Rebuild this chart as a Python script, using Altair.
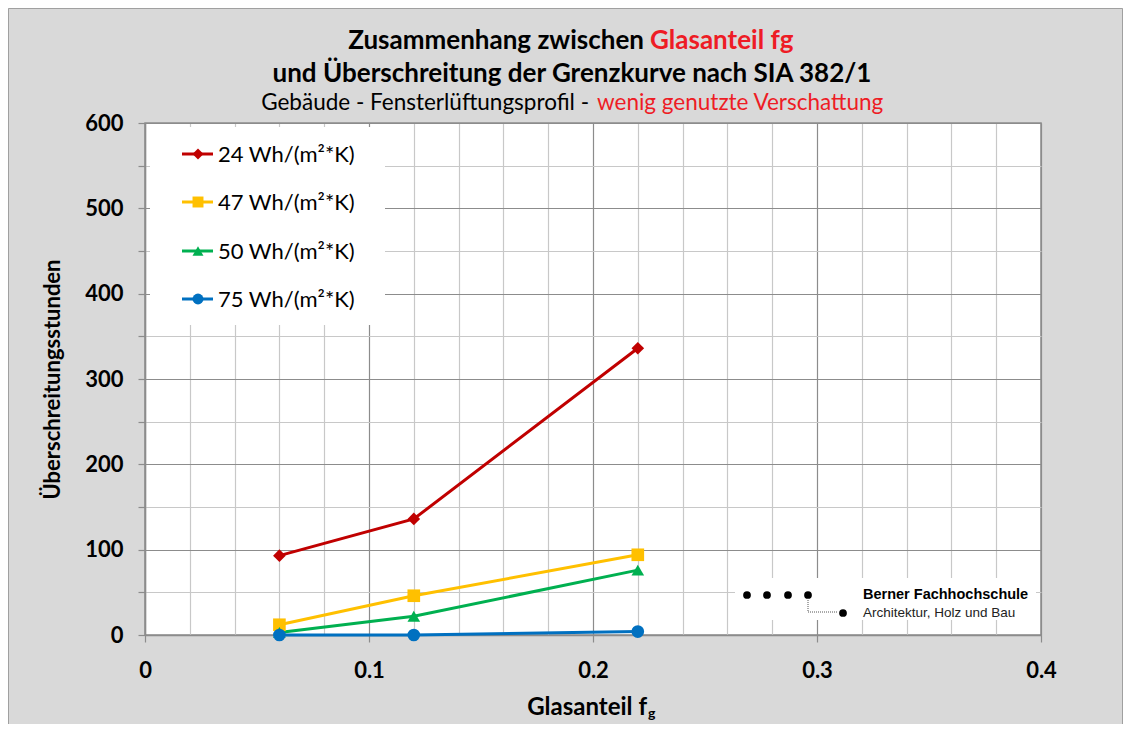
import altair as alt
import pandas as pd

# ---- data ----
fg = [0.06, 0.12, 0.22]
series_names = ["24 Wh/(m²*K)", "47 Wh/(m²*K)", "50 Wh/(m²*K)", "75 Wh/(m²*K)"]
v24 = [93, 136, 336]
v47 = [12, 46, 94]
v50 = [3, 22, 76]
v75 = [0, 0, 4]
colors = ["#C00000", "#FFC000", "#00B050", "#0070C0"]
shapes = ["diamond", "square", "triangle-up", "circle"]
x_ticks = [round(i * 0.02, 2) for i in range(21)]
y_ticks = list(range(0, 601, 50))

FONT = "Lato"
RED = "#EE1C25"
W, H = 896, 512
PL, PT, PR, PB = 137, 115, 82, 89

rows = []
for name, vals in zip(series_names, [v24, v47, v50, v75]):
    for x, v in zip(fg, vals):
        rows.append({"series": name, "fg": x, "value": v})
df = pd.DataFrame(rows)

one = alt.Data(values=[{"a": 1}])

xscale = alt.Scale(domain=[0, 0.4], nice=False, zero=False)
yscale = alt.Scale(domain=[0, 600], nice=False)
cscale = alt.Scale(domain=series_names, range=colors)
sscale = alt.Scale(domain=series_names, range=shapes)

major_x = "abs(datum.value*10 - round(datum.value*10)) < 1e-6"
major_y = "datum.value % 100 == 0"

x_axis = alt.Axis(
    values=x_ticks, title=None, grid=True,
    gridColor=alt.condition(major_x, alt.value("#8c8c8c"), alt.value("#c8c8c8")),
    gridWidth=1.2,
    tickColor=alt.condition(major_x, alt.value("#8c8c8c"), alt.value("transparent")),
    tickSize=7, tickWidth=1.2,
    labelExpr=f"{major_x} ? format(datum.value, '.1~f') : ''",
    labelFlush=False, labelOverlap=False,
    labelFont=FONT, labelFontSize=22, labelFontWeight="bold", labelColor="black",
    labelPadding=18, domainColor="#8c8c8c", domainWidth=1.5,
)
y_axis = alt.Axis(
    values=y_ticks, title="Überschreitungsstunden", grid=True,
    gridColor=alt.condition(major_y, alt.value("#8c8c8c"), alt.value("#c8c8c8")),
    gridWidth=1.2,
    tickColor="#8c8c8c", tickSize=7, tickWidth=1.2,
    labelExpr=f"{major_y} ? datum.label : ''",
    labelOverlap=False,
    labelFont=FONT, labelFontSize=22, labelFontWeight="bold", labelColor="black",
    labelPadding=15, domainColor="#8c8c8c", domainWidth=1.5,
    titleFont=FONT, titleFontSize=22, titleFontWeight="bold", titleColor="black",
    titlePadding=20,
)

base = alt.Chart(df)
lines = base.mark_line(strokeWidth=3).encode(
    x=alt.X("fg:Q", scale=xscale, axis=x_axis),
    y=alt.Y("value:Q", scale=yscale, axis=y_axis),
    color=alt.Color("series:N", scale=cscale, legend=None),
    detail="series:N",
)
points = base.mark_point(filled=True, opacity=1).encode(
    x=alt.X("fg:Q", scale=xscale),
    y=alt.Y("value:Q", scale=yscale),
    color=alt.Color("series:N", scale=cscale, legend=None),
    shape=alt.Shape("series:N", scale=sscale, legend=None),
    size=alt.value(160),
)


def txt(s, x, y, size, color="black", weight="normal", align="left",
        baseline="alphabetic", font=FONT):
    return alt.Chart(one).mark_text(
        text=s, align=align, baseline=baseline, fontSize=size,
        fontWeight=weight, color=color, font=font,
    ).encode(x=alt.value(x), y=alt.value(y))


def box(x1, x2, y1, y2, fill="white", stroke=None, sw=0):
    kw = dict(fill=fill)
    if stroke:
        kw.update(stroke=stroke, strokeWidth=sw)
    return alt.Chart(one).mark_rect(**kw).encode(
        x=alt.value(x1), x2=alt.value(x2), y=alt.value(y1), y2=alt.value(y2))


layers = []
# outer frame
layers.append(box(-PL + 0.5, W + PR - 0.5, -PT + 0.5, H + PB + 10,
                  fill="transparent", stroke="#a0a0a0", sw=1))
layers += [lines, points]

# titles
layers.append(txt("Zusammenhang zwischen", 499, -74, 26, weight="bold", align="right"))
layers.append(txt("Glasanteil fg", 505, -74, 26, color=RED, weight="bold"))
layers.append(txt("und Überschreitung der Grenzkurve nach SIA 382/1", 427, -41, 26,
                  weight="bold", align="center"))
layers.append(txt("Gebäude - Fensterlüftungsprofil -", 444, -13, 22.5, align="right"))
layers.append(txt("wenig genutzte Verschattung", 452, -13, 22.5, color=RED))

# x axis title with subscript
layers.append(txt("Glasanteil f", 502, 592, 24, weight="bold", align="right"))
layers.append(txt("g", 503, 595, 14, weight="bold"))

# legend
layers.append(box(5, 240, 4, 202))
leg_y = [31, 79, 128, 176]
for name, col, shp, yy in zip(series_names, colors, shapes, leg_y):
    layers.append(alt.Chart(one).mark_rule(color=col, strokeWidth=3).encode(
        x=alt.value(37), x2=alt.value(68), y=alt.value(yy)))
    layers.append(alt.Chart(one).mark_point(filled=True, opacity=1, color=col, shape=shp,
                                            size=120).encode(
        x=alt.value(53), y=alt.value(yy)))
    layers.append(txt(name, 73, yy + 1, 22, baseline="middle"))

# logo
layers.append(box(590, 891, 455, 497))
for dx in [602, 622, 643, 663]:
    layers.append(alt.Chart(one).mark_point(filled=True, opacity=1, color="black",
                                            shape="circle", size=60).encode(
        x=alt.value(dx), y=alt.value(472)))
layers.append(alt.Chart(one).mark_rule(color="#555555", strokeWidth=1, strokeDash=[1, 1]).encode(
    x=alt.value(663), y=alt.value(477), y2=alt.value(489)))
layers.append(alt.Chart(one).mark_rule(color="#555555", strokeWidth=1, strokeDash=[1, 1]).encode(
    x=alt.value(663), x2=alt.value(693), y=alt.value(489)))
layers.append(alt.Chart(one).mark_point(filled=True, opacity=1, color="black",
                                        shape="circle", size=60).encode(
    x=alt.value(698), y=alt.value(490)))
layers.append(txt("Berner Fachhochschule", 718, 472, 14.5, weight="bold", baseline="middle",
                  font="Liberation Sans"))
layers.append(txt("Architektur, Holz und Bau", 718, 490, 13.5, baseline="middle",
                  font="Liberation Sans", color="#222222"))

chart = alt.layer(*layers).properties(
    width=W, height=H,
    background="#d9d9d9",
    padding={"left": PL, "top": PT, "right": PR, "bottom": PB},
    autosize=alt.AutoSizeParams(type="none"),
).configure_view(fill="white", stroke="#8c8c8c", strokeWidth=1.5)

chart.save("out.html", embed_options={"renderer": "svg", "actions": False})
